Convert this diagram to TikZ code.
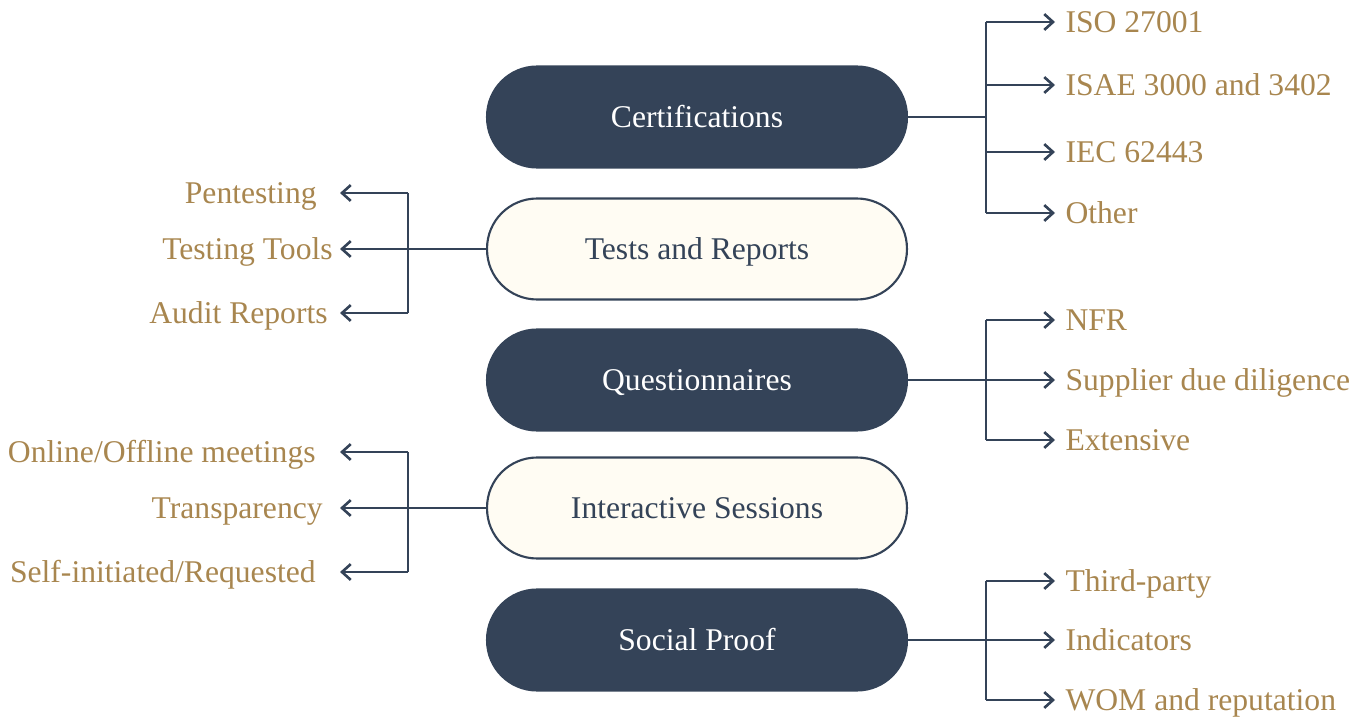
\documentclass[tikz,border=0pt]{standalone}
\usepackage{fontspec}
\setmainfont{Liberation Serif}
\usetikzlibrary{positioning,calc,arrows.meta}
\definecolor{navy}{HTML}{344358}
\definecolor{gold}{HTML}{A8864F}
\definecolor{cream}{HTML}{FFFCF3}

\tikzset{
  pill/.style={rectangle, rounded corners=1cm, minimum width=8.4cm, minimum height=2.02cm,
    line width=1.2pt, font=\fontsize{18}{21}\selectfont, text height=12pt, text depth=0pt},
  darkpill/.style={pill, fill=navy, draw=navy, text=white},
  lightpill/.style={pill, fill=cream, draw=navy, text=navy},
  item/.style={text=gold, font=\fontsize{18}{21}\selectfont, text height=12pt, text depth=0pt},
  ritem/.style={item, anchor=west, inner xsep=5.8pt},
  litem/.style={item, anchor=east, inner sep=0pt},
  link/.style={navy, line width=1.3pt},
  tip/.style={link, -{Straight Barb[length=5pt,width=9pt,line width=1.5pt]}}
}

\begin{document}
\begin{tikzpicture}[x=0.02cm, y=-0.02cm]
    \useasboundingbox (0,0) rectangle (1366,719);

    % main pills
    \node[darkpill]  (cert)  at (697,117) {Certifications};
    \node[lightpill] (tests) at (697,249) {Tests and Reports};
    \node[darkpill]  (quest) at (697,380) {Questionnaires};
    \node[lightpill] (inter) at (697,508) {Interactive Sessions};
    \node[darkpill]  (proof) at (697,640) {Social Proof};

    % arrow ends of the left branches
    \coordinate (ltip) at (340,0);

    % certifications
    \node[ritem] (iso)  at (1055,22)  {ISO 27001};
    \node[ritem] (isae) at (1055,85)  {ISAE 3000 and 3402};
    \node[ritem] (iec)  at (1055,152) {IEC 62443};
    \node[ritem] (oth)  at (1055,213) {Other};
    \coordinate (cj) at (986,117);
    \draw[link] (cert.east) -- (cj);
    \draw[link] (cj |- iso.west) -- (cj |- oth.west);
    \foreach \n in {iso,isae,iec,oth}
        \draw[tip] (cj |- \n.west) -- (\n.west);

    % tests and reports
    \node[litem] (pent)  at (317,193) {Pentesting};
    \node[litem] (tools) at (333,249) {Testing Tools};
    \node[litem] (audit) at (328,313) {Audit Reports};
    \coordinate (tj) at (408,249);
    \draw[link] (tests.west) -- (tj);
    \draw[link] (tj |- pent.east) -- (tj |- audit.east);
    \foreach \n in {pent,tools,audit}
        \draw[tip] (tj |- \n.east) -- (ltip |- \n.east);

    % questionnaires
    \node[ritem] (nfr)  at (1055,320) {NFR};
    \node[ritem] (supp) at (1055,380) {Supplier due diligence};
    \node[ritem] (ext)  at (1055,440) {Extensive};
    \coordinate (qj) at (986,380);
    \draw[link] (quest.east) -- (qj);
    \draw[link] (qj |- nfr.west) -- (qj |- ext.west);
    \foreach \n in {nfr,supp,ext}
        \draw[tip] (qj |- \n.west) -- (\n.west);

    % interactive sessions
    \node[litem] (meet)  at (316,452) {Online/Offline meetings};
    \node[litem] (trans) at (323,508) {Transparency};
    \node[litem] (self)  at (316,572) {Self-initiated/Requested};
    \coordinate (ij) at (408,508);
    \draw[link] (inter.west) -- (ij);
    \draw[link] (ij |- meet.east) -- (ij |- self.east);
    \foreach \n in {meet,trans,self}
        \draw[tip] (ij |- \n.east) -- (ltip |- \n.east);

    % social proof
    \node[ritem] (third) at (1055,581) {Third-party};
    \node[ritem] (indic) at (1055,640) {Indicators};
    \node[ritem] (wom)   at (1055,700) {WOM and reputation};
    \coordinate (sj) at (986,640);
    \draw[link] (proof.east) -- (sj);
    \draw[link] (sj |- third.west) -- (sj |- wom.west);
    \foreach \n in {third,indic,wom}
        \draw[tip] (sj |- \n.west) -- (\n.west);
\end{tikzpicture}
\end{document}
